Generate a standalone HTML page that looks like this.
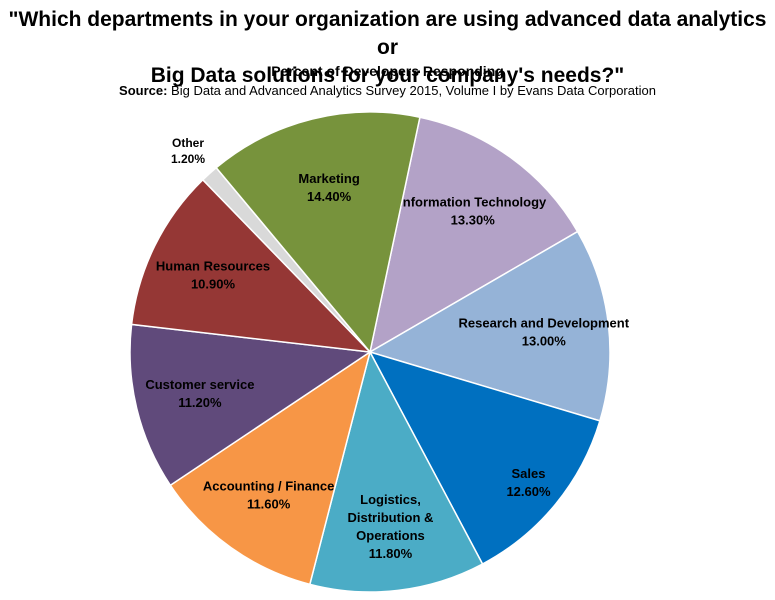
<!DOCTYPE html>
<html><head><meta charset="utf-8">
<style>
body{margin:0;background:#fff;font-family:"Liberation Sans",sans-serif;}
#wrap{position:relative;width:775px;height:600px;overflow:hidden}
.t{position:absolute;left:0;width:775px;text-align:center;color:#000}
</style></head>
<body>
<div id="wrap">
<div class="t" style="top:6px;font-size:21px;font-weight:bold;line-height:28px">"Which departments in your organization are using advanced data analytics or<br>Big Data solutions for your company's needs?"</div>
<div class="t" style="top:63px;font-size:14px;font-weight:bold">Percent of Developers Responding</div>
<div class="t" style="top:83px;font-size:13px"><b>Source:</b> Big Data and Advanced Analytics Survey 2015, Volume I by Evans Data Corporation</div>
<svg id="pie" width="775" height="600" style="position:absolute;left:0;top:0"></svg>
</div>
<script>
const categories=["Information Technology","Research and Development","Sales","Logistics, Distribution & Operations","Accounting / Finance","Customer service","Human Resources","Other","Marketing"];
const values=[13.3,13.0,12.6,11.8,11.6,11.2,10.9,1.2,14.4];
const labelLines=[["Information Technology"],["Research and Development"],["Sales"],["Logistics,","Distribution &","Operations"],["Accounting / Finance"],["Customer service"],["Human Resources"],["Other"],["Marketing"]];
const colors=["#b3a2c7","#95b3d7","#0070c0","#4bacc6","#f79646","#604a7b","#953735","#d9d9d9","#77933c"];
const cx=370,cy=352,R=240,startDeg=12;
const svg=document.getElementById('pie');
const NS="http://www.w3.org/2000/svg";
const total=values.reduce((a,b)=>a+b,0);
function pt(deg,r){const a=deg*Math.PI/180;return [cx+r*Math.sin(a),cy-r*Math.cos(a)];}
let ang=startDeg;
values.forEach((v,i)=>{
  const sweep=v/total*360,a0=ang,a1=ang+sweep;ang=a1;
  const p0=pt(a0,R),p1=pt(a1,R);
  const path=document.createElementNS(NS,'path');
  path.setAttribute('d',`M${cx},${cy}L${p0[0]},${p0[1]}A${R},${R} 0 ${sweep>180?1:0} 1 ${p1[0]},${p1[1]}Z`);
  path.setAttribute('fill',colors[i]);path.setAttribute('stroke','#fff');path.setAttribute('stroke-width','1.5');
  
  
  svg.appendChild(path);
  const mid=(a0+a1)/2;
  const outside=v<3;
  const lr=outside?R+32:(i===2?205:i===8?170:175);
  const lp=pt(mid,lr);
  const lines=labelLines[i].concat([v.toFixed(2)+'%']);
  const lh=outside?16:18;
  const tx=document.createElementNS(NS,'text');
  tx.setAttribute('text-anchor','middle');tx.setAttribute('font-size',outside?'12':'13');tx.setAttribute('font-weight','bold');
  tx.setAttribute('font-family','Liberation Sans, sans-serif');
  tx.setAttribute('fill',(i===5||i===6)&&false?'#fff':'#000');
  
  
  const y0=lp[1]-(lines.length-1)*lh/2+5;
  lines.forEach((l,k)=>{const ts=document.createElementNS(NS,'tspan');ts.setAttribute('x',lp[0]);ts.setAttribute('y',y0+k*lh);ts.textContent=l;tx.appendChild(ts);});
  svg.appendChild(tx);
});
</script>
</body></html>
